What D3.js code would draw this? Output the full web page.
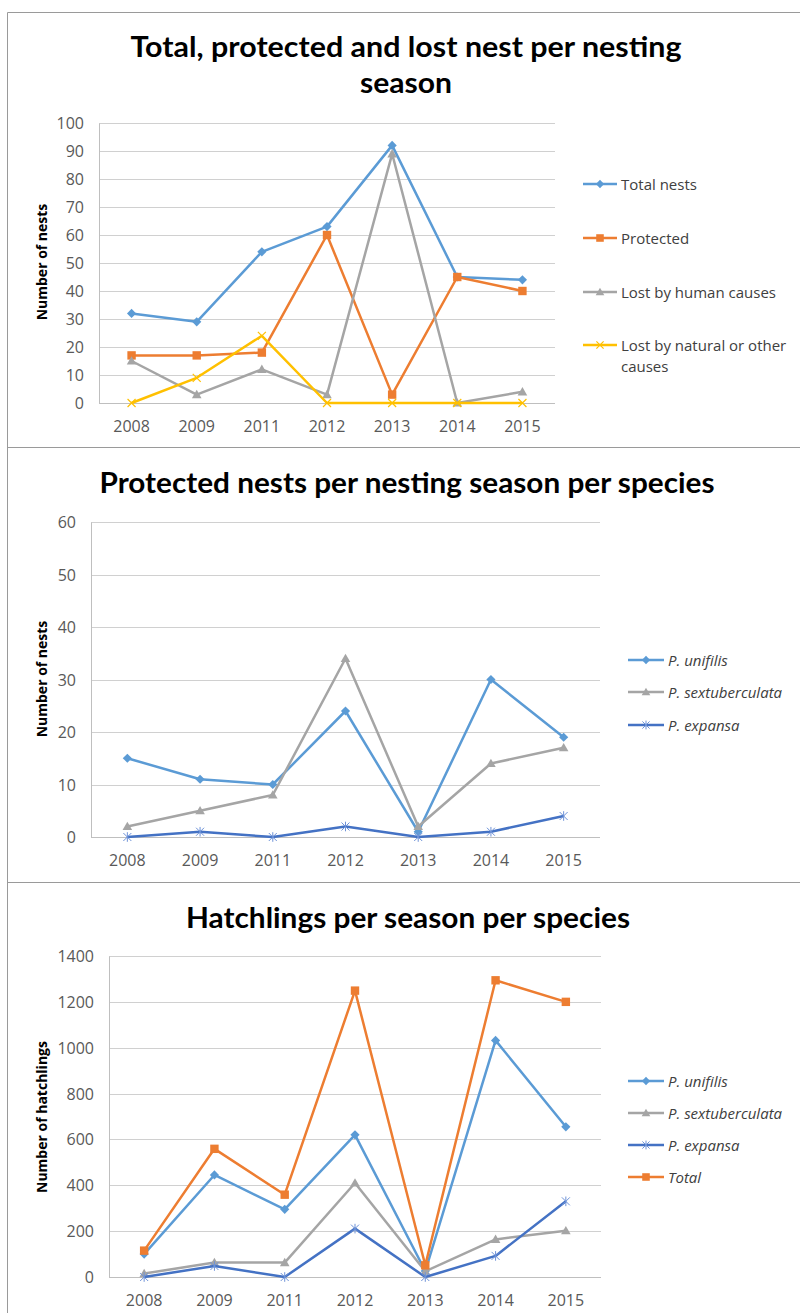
<!DOCTYPE html>
<html><head><meta charset="utf-8">
<script src="https://cdn.jsdelivr.net/npm/d3@7"></script>
<style>body{margin:0;background:#fff} svg{display:block}</style>
</head><body>
<svg id="c" width="800" height="1313"></svg>
<script>
// ---------- data ----------
const seasons = ["2008","2009","2011","2012","2013","2014","2015"];

// Chart 1: total, protected and lost nests
const totalNests     = [32, 29, 54, 63, 92, 45, 44];
const protectedNests = [17, 17, 18, 60,  3, 45, 40];
const lostHuman      = [15,  3, 12,  3, 89,  0,  4];
const lostNatural    = [ 0,  9, 24,  0,  0,  0,  0];
const ticks1 = [0,10,20,30,40,50,60,70,80,90,100];

// Chart 2: protected nests per species
const protUnifilis       = [15, 11, 10, 24, 1, 30, 19];
const protSextuberculata = [ 2,  5,  8, 34, 2, 14, 17];
const protExpansa        = [ 0,  1,  0,  2, 0,  1,  4];
const ticks2 = [0,10,20,30,40,50,60];

// Chart 3: hatchlings per species
const hatchUnifilis       = [100, 445, 295,  620, 26, 1032, 655];
const hatchSextuberculata = [ 15,  63,  63,  410, 25,  164, 202];
const hatchExpansa        = [  0,  48,   0,  211,  0,   92, 330];
const hatchTotal          = [115, 559, 359, 1249, 51, 1294, 1200];
const ticks3 = [0,200,400,600,800,1000,1200,1400];

// ---------- styling ----------
const C = {blue:"#5b9bd5", orange:"#ed7d31", gray:"#a5a5a5", gold:"#ffc000", dblue:"#4472c4"};
const FONT = "'Open Sans', 'Noto Sans', sans-serif";
const TITLEFONT = "'Liberation Sans Narrow', Lato, 'Open Sans', sans-serif";

const svg = d3.select("#c");

// frame
const frame = svg.append("g").attr("stroke","#9a9a9a").attr("stroke-width",1).attr("fill","none");
frame.append("line").attr("x1",7.5).attr("x2",800).attr("y1",12.5).attr("y2",12.5);
frame.append("line").attr("x1",7.5).attr("x2",7.5).attr("y1",12.5).attr("y2",1313);
frame.append("line").attr("x1",7.5).attr("x2",800).attr("y1",447.5).attr("y2",447.5);
frame.append("line").attr("x1",7.5).attr("x2",800).attr("y1",882.5).attr("y2",882.5);

function marker(g, type, color, x, y, s) {
  s = s || 1;
  if (type === "diamond") {
    const r = 4.6*s;
    g.append("path").attr("d",`M${x},${y-r}L${x+r},${y}L${x},${y+r}L${x-r},${y}Z`).attr("fill",color);
  } else if (type === "square") {
    const r = 4.2*s;
    g.append("rect").attr("x",x-r).attr("y",y-r).attr("width",2*r).attr("height",2*r).attr("fill",color);
  } else if (type === "triangle") {
    const r = 4.8*s;
    g.append("path").attr("d",`M${x},${y-r}L${x+r},${y+r*0.75}L${x-r},${y+r*0.75}Z`).attr("fill",color);
  } else if (type === "x") {
    const r = 4*s;
    g.append("path").attr("d",`M${x-r},${y-r}L${x+r},${y+r}M${x-r},${y+r}L${x+r},${y-r}`)
      .attr("stroke",color).attr("stroke-width",1.2).attr("fill","none");
  } else if (type === "star") {
    const r = 4*s;
    g.append("path").attr("d",`M${x-r},${y-r}L${x+r},${y+r}M${x-r},${y+r}L${x+r},${y-r}M${x},${y-r-0.8}L${x},${y+r+0.8}`)
      .attr("stroke","#6f93d8").attr("stroke-width",1).attr("fill","none");
  }
}

function title(lines, cx, ys, widths) {
  lines.forEach((t,i) => {
    svg.append("text").attr("x",cx).attr("y",ys[i]).attr("text-anchor","middle")
      .attr("dominant-baseline","central").attr("font-family",TITLEFONT).attr("font-weight","bold")
      .attr("font-size",28).attr("fill","#000")
      .attr("textLength",widths[i]).attr("lengthAdjust","spacingAndGlyphs").text(t);
  });
}

function drawChart(cfg) {
  const g = svg.append("g");
  const x = d3.scaleBand().domain(seasons).range([cfg.left, cfg.right]);
  const y = d3.scaleLinear().domain([0, cfg.max]).range([cfg.bottom, cfg.top]);
  // gridlines
  g.append("g").selectAll("line").data(cfg.ticks).join("line")
    .attr("x1",cfg.left).attr("x2",cfg.right)
    .attr("y1",d=>Math.round(y(d))+0.5).attr("y2",d=>Math.round(y(d))+0.5)
    .attr("stroke",d=>d===0?"#bfbfbf":"#d0d0d0").attr("stroke-width",1);
  // left axis line
  g.append("line").attr("x1",cfg.left+0.5).attr("x2",cfg.left+0.5)
    .attr("y1",Math.round(y(cfg.max))+0.5).attr("y2",Math.round(y(0))+0.5)
    .attr("stroke","#bfbfbf");
  // y tick labels
  g.append("g").selectAll("text").data(cfg.ticks).join("text")
    .attr("x",cfg.left-15).attr("y",d=>y(d)).attr("text-anchor","end")
    .attr("dominant-baseline","central").attr("font-family",FONT).attr("font-size",16)
    .attr("fill","#595959").text(d=>d);
  // x tick labels
  g.append("g").selectAll("text").data(seasons).join("text")
    .attr("x",d=>x(d)+x.bandwidth()/2).attr("y",cfg.xLabelY).attr("text-anchor","middle")
    .attr("dominant-baseline","central").attr("font-family",FONT).attr("font-size",16)
    .attr("fill","#595959").text(d=>d);
  // y axis title
  g.append("text").attr("transform",`translate(${cfg.yTitleX},${cfg.yTitleY}) rotate(-90)`)
    .attr("text-anchor","middle").attr("dominant-baseline","central")
    .attr("font-family",FONT).attr("font-weight","bold").attr("font-size",14)
    .attr("fill","#000").text(cfg.yTitle);
  // series
  const line = d3.line().x((d,i)=>x(seasons[i])+x.bandwidth()/2).y(d=>y(d));
  cfg.series.forEach(s => {
    g.append("path").datum(s.values).attr("d",line).attr("fill","none")
      .attr("stroke",s.color).attr("stroke-width",2.5).attr("stroke-linejoin","round");
    s.values.forEach((v,i) => marker(g, s.marker, s.color, x(seasons[i])+x.bandwidth()/2, y(v)));
  });
  // legend
  cfg.series.forEach((s,i) => {
    const ly = cfg.legend.ys[i];
    const x0 = cfg.legend.x0, x1 = cfg.legend.x1;
    g.append("line").attr("x1",x0).attr("x2",x1).attr("y1",ly).attr("y2",ly)
      .attr("stroke",s.color).attr("stroke-width",2.5);
    marker(g, s.marker, s.color, (x0+x1)/2, ly, 0.9);
    const lines = s.label.split("\n");
    lines.forEach((t,j) => {
      g.append("text").attr("x",x1+4).attr("y",ly + j*cfg.legend.lineH)
        .attr("dominant-baseline","central").attr("font-family",FONT).attr("font-size",15)
        .attr("font-style",cfg.legend.italic?"italic":"normal")
        .attr("fill","#404040").text(t);
    });
  });
}

// ---------- chart 1 ----------
title(["Total, protected and lost nest per nesting","season"], 406, [46, 82], [551, 92]);
drawChart({
  left:99, right:555, top:123, bottom:403, max:100, ticks:ticks1, xLabelY:426,
  yTitle:"Number of nests", yTitleX:41, yTitleY:262,
  series:[
    {label:"Total nests", values:totalNests, color:C.blue, marker:"diamond"},
    {label:"Protected", values:protectedNests, color:C.orange, marker:"square"},
    {label:"Lost by human causes", values:lostHuman, color:C.gray, marker:"triangle"},
    {label:"Lost by natural or other\ncauses", values:lostNatural, color:C.gold, marker:"x"}
  ],
  legend:{x0:583, x1:617, ys:[184,238,292,345], lineH:21, italic:false}
});

// ---------- chart 2 ----------
title(["Protected nests per nesting season per species"], 407, [482], [615]);
drawChart({
  left:91, right:600, top:522, bottom:837, max:60, ticks:ticks2, xLabelY:860,
  yTitle:"Number of nests", yTitleX:41, yTitleY:679,
  series:[
    {label:"P. unifilis", values:protUnifilis, color:C.blue, marker:"diamond"},
    {label:"P. sextuberculata", values:protSextuberculata, color:C.gray, marker:"triangle"},
    {label:"P. expansa", values:protExpansa, color:C.dblue, marker:"star"}
  ],
  legend:{x0:628, x1:664, ys:[660,692,725], lineH:21, italic:true}
});

// ---------- chart 3 ----------
title(["Hatchlings per season per species"], 408, [917], [444]);
drawChart({
  left:109, right:601, top:956, bottom:1277, max:1400, ticks:ticks3, xLabelY:1300,
  yTitle:"Number of hatchlings", yTitleX:41, yTitleY:1117,
  series:[
    {label:"P. unifilis", values:hatchUnifilis, color:C.blue, marker:"diamond"},
    {label:"P. sextuberculata", values:hatchSextuberculata, color:C.gray, marker:"triangle"},
    {label:"P. expansa", values:hatchExpansa, color:C.dblue, marker:"star"},
    {label:"Total", values:hatchTotal, color:C.orange, marker:"square"}
  ],
  legend:{x0:628, x1:664, ys:[1081,1113,1145,1177], lineH:21, italic:true}
});
</script>
</body></html>
